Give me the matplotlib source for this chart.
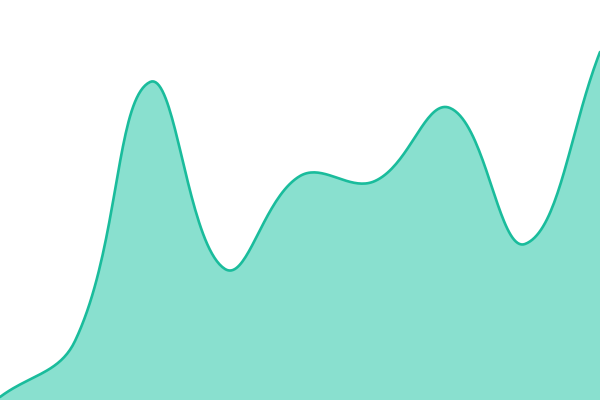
import numpy as np
import matplotlib
matplotlib.use("Agg")
import matplotlib.pyplot as plt

x_points = [0, 75, 150, 225, 300, 375, 450, 525, 600]
y_values = [3, 59, 318, 131, 224, 219, 292, 156, 348]

line_color = "#1abc9c"
fill_color = "#89e0cf"
tension = 0.4


def spline_curve(xs, ys, t=0.4, n=40):
    # bezier spline with control points scaled by neighbour distances
    pts = np.column_stack([xs, ys]).astype(float)
    m = len(pts)
    cp_prev = pts.copy()
    cp_next = pts.copy()
    for i in range(m):
        prev = pts[max(i - 1, 0)]
        nxt = pts[min(i + 1, m - 1)]
        cur = pts[i]
        d01 = np.hypot(*(cur - prev))
        d12 = np.hypot(*(nxt - cur))
        tot = d01 + d12
        s01 = d01 / tot if tot else 0
        s12 = d12 / tot if tot else 0
        cp_prev[i] = cur - t * s01 * (nxt - prev)
        cp_next[i] = cur + t * s12 * (nxt - prev)
    u = np.linspace(0, 1, n, endpoint=False)[:, None]
    out = []
    for i in range(m - 1):
        p0, p1, p2, p3 = pts[i], cp_next[i], cp_prev[i + 1], pts[i + 1]
        out.append((1 - u) ** 3 * p0 + 3 * (1 - u) ** 2 * u * p1
                   + 3 * (1 - u) * u ** 2 * p2 + u ** 3 * p3)
    out.append(pts[-1:])
    out = np.vstack(out)
    return out[:, 0], out[:, 1]


sx, sy = spline_curve(x_points, y_values, tension)

fig = plt.figure(figsize=(6, 4), dpi=100)
ax = fig.add_axes([0, 0, 1, 1])
ax.fill_between(sx, 0, sy, color=fill_color, linewidth=0)
ax.plot(sx, sy, color=line_color, linewidth=1.9, solid_capstyle="round")
ax.set_xlim(0, 600)
ax.set_ylim(0, 400)
ax.set_axis_off()

fig.savefig("out.png", dpi=100, facecolor="white")
